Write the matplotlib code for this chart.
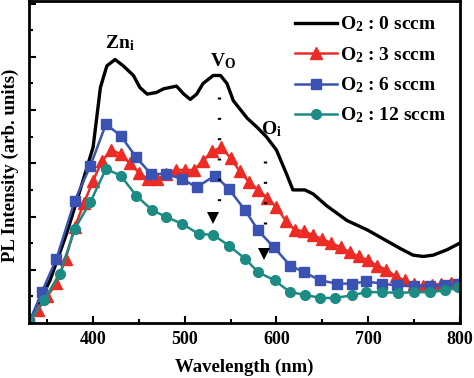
import matplotlib
matplotlib.use("Agg")
import matplotlib.pyplot as plt
from matplotlib.ticker import MultipleLocator, NullFormatter

plt.rcParams['font.family'] = ['Liberation Serif', 'DejaVu Serif']
plt.rcParams['font.weight'] = 'bold'
plt.rcParams['mathtext.fontset'] = 'custom'
plt.rcParams['mathtext.rm'] = 'Liberation Serif:bold'
plt.rcParams['mathtext.it'] = 'Liberation Serif:bold'
plt.rcParams['mathtext.bf'] = 'Liberation Serif:bold'

# ---- data ----
black_x = [330, 353, 371, 389, 400, 408, 415, 424, 433, 444, 451, 459, 469, 477, 491, 499,
           506, 513, 520, 531, 539, 546, 553, 568, 579, 589, 600, 611, 618, 631, 640, 655,
           677, 699, 717, 735, 749, 760, 771, 786, 800]
black_y = [0.0, 1.6, 3.35, 5.35, 6.6, 8.85, 9.66, 9.9, 9.66, 9.3, 8.85, 8.6, 8.66, 8.8, 8.9, 8.6,
           8.4, 8.6, 9.0, 9.3, 9.3, 9.0, 8.35, 7.7, 7.35, 7.0, 6.5, 5.6, 5.0, 5.0, 4.85, 4.4,
           3.85, 3.5, 3.15, 2.8, 2.55, 2.5, 2.55, 2.75, 3.0]

red_x = [330, 340, 350, 360, 370, 380, 390, 400, 410, 420, 430, 440, 450, 460, 470, 480,
         490, 500, 510, 520, 530, 540, 550, 560, 570, 580, 590, 600, 610, 620, 630, 640,
         650, 660, 670, 680, 690, 700, 710, 720, 730, 740, 750, 760, 770, 780, 790, 800]
red_y = [0.0, 0.5, 1.0, 1.5, 2.4, 3.6, 4.5, 5.35, 6.1, 6.5, 6.35, 6.0, 5.65, 5.4, 5.4, 5.6,
         5.75, 5.75, 5.75, 6.1, 6.45, 6.6, 6.2, 5.7, 5.3, 5.0, 4.7, 4.35, 3.85, 3.5, 3.45, 3.3,
         3.15, 3.0, 2.85, 2.65, 2.5, 2.35, 2.15, 2.0, 1.75, 1.6, 1.45, 1.4, 1.42, 1.48, 1.52, 1.55]

blue_x = [330, 344, 360, 380, 397, 414, 430, 447, 463, 480, 497, 513, 533, 548, 566, 580,
          597, 615, 630, 648, 666, 682, 698, 715, 731, 750, 768, 784, 798]
blue_y = [0.0, 1.16, 2.41, 4.6, 5.9, 7.47, 7.04, 6.23, 5.6, 5.6, 5.41, 5.1, 5.54, 5.04, 4.23, 3.48,
          2.85, 2.16, 1.91, 1.6, 1.48, 1.48, 1.56, 1.48, 1.41, 1.39, 1.39, 1.41, 1.48]

teal_x = [330, 346, 364, 380, 397, 414, 430, 447, 464, 480, 497, 515, 531, 548, 566, 580,
          598, 615, 631, 648, 664, 682, 698, 715, 733, 750, 768, 784, 798]
teal_y = [0.0, 0.85, 1.85, 3.54, 4.54, 5.79, 5.54, 4.79, 4.25, 3.98, 3.73, 3.35, 3.31, 2.91, 2.41, 1.91,
          1.6, 1.16, 1.06, 0.94, 0.94, 1.04, 1.16, 1.16, 1.13, 1.16, 1.16, 1.23, 1.35]

labels = ["O$_2$ : 0 sccm", "O$_2$ : 3 sccm", "O$_2$ : 6 sccm", "O$_2$ : 12 sccm"]

fig = plt.figure(figsize=(4.74, 3.78), dpi=100)
ax = fig.add_axes([0.061, 0.1455, 0.909, 0.852])

ax.plot(black_x, black_y, color='black', lw=2.4, label=labels[0])
ax.plot(red_x, red_y, color='#ec2b25', lw=1.8, marker='^', ms=8.5, label=labels[1])
ax.plot(blue_x, blue_y, color='#3a52b2', lw=1.8, marker='s', ms=6.5, label=labels[2])
ax.plot(teal_x, teal_y, color='#1c8b84', lw=1.8, marker='o', ms=7, label=labels[3])

# dotted guide lines and arrows
ax.plot([537, 537], [8.5, 4.3], color='black', lw=2.4, ls=(0, (0.6, 5.5)))
ax.plot([588, 588], [6.1, 3.2], color='black', lw=2.4, ls=(0, (0.6, 5.5)))
ax.plot([531], [3.95], marker='v', color='black', ms=8, markeredgewidth=0)
ax.plot([586], [2.6], marker='v', color='black', ms=8, markeredgewidth=0)

ax.text(429, 10.5, "Zn$_\\mathrm{i}$", fontsize=14, fontweight='bold', ha='center', va='center')
ax.text(542, 9.85, "V$_\\mathrm{O}$", fontsize=14, fontweight='bold', ha='center', va='center')
ax.text(595, 7.3, "O$_\\mathrm{i}$", fontsize=14, fontweight='bold', ha='center', va='center')

ax.set_xlim(330, 800)
ax.set_ylim(0, 12.1)
ax.xaxis.set_major_locator(MultipleLocator(100))
ax.xaxis.set_minor_locator(MultipleLocator(50))
ax.yaxis.set_major_locator(MultipleLocator(2))
ax.yaxis.set_minor_locator(MultipleLocator(1))
ax.yaxis.set_major_formatter(NullFormatter())
ax.tick_params(axis='both', which='both', direction='in', top=False, right=False)
ax.tick_params(axis='both', which='major', length=5, width=1.5)
ax.tick_params(axis='both', which='minor', length=3, width=1.5)
ax.tick_params(axis='x', labelsize=13, pad=6)
for lab in ax.get_xticklabels():
    lab.set_fontweight('bold')
for sp in ax.spines.values():
    sp.set_linewidth(2)

ax.set_xlabel("Wavelength (nm)", fontsize=13.5, fontweight='bold')
ax.xaxis.set_label_coords(0.5, -0.112)
ax.set_ylabel("PL Intensity (arb. units)", fontsize=13.5, fontweight='bold')
ax.yaxis.set_label_coords(-0.022, 0.49)

leg = ax.legend(loc='upper right', frameon=False, handlelength=2.2,
                handletextpad=0.15, labelspacing=0.55, borderaxespad=0.3,
                prop={'weight': 'bold', 'size': 14})

fig.savefig("out.png", dpi=100)
